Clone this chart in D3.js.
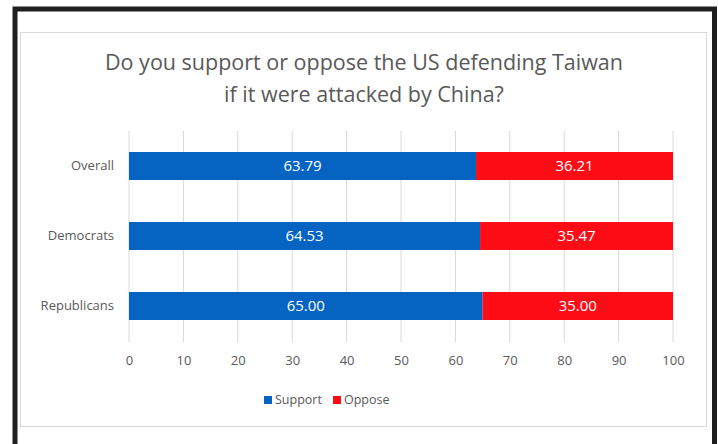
<!DOCTYPE html>
<html lang="en">
<head>
	<meta charset="UTF-8">
	<title>US defending Taiwan</title>
	<script src="https://cdn.jsdelivr.net/npm/d3@7"></script>
	<style>
		body { margin: 0; background: #fff; }
		text { font-family: "Open Sans", "Noto Sans", sans-serif; }
	</style>
</head>
<body>
<div id="chart"></div>
<script>
var groups  = ["Overall", "Democrats", "Republicans"]; // categories
var support = [63.79, 64.53, 65.00];
var oppose  = [36.21, 35.47, 35.00];
var seriesNames = ["Support", "Oppose"];
var xTicks = [0, 10, 20, 30, 40, 50, 60, 70, 80, 90, 100];

var colors = { Support: "#0563c1", Oppose: "#ff0d16" };
var grey = "#595959";

var svg = d3.select("#chart").append("svg")
	.attr("width", 718)
	.attr("height", 444);

// dark frame around the screenshot
svg.append("path")
	.attr("d", "M15,444 V9 H714.5 V444")
	.attr("fill", "none")
	.attr("stroke", "#1e1e1e")
	.attr("stroke-width", 5);

// chart area border
svg.append("rect")
	.attr("x", 20.5).attr("y", 32.5)
	.attr("width", 686).attr("height", 394)
	.attr("fill", "#fff")
	.attr("stroke", "#d9d9d9");

// title
var title = svg.append("text")
	.attr("text-anchor", "middle")
	.attr("fill", grey)
	.attr("font-size", 21.5);
title.append("tspan").attr("x", 364).attr("y", 70).text("Do you support or oppose the US defending Taiwan");
title.append("tspan").attr("x", 364).attr("y", 102).text("if it were attacked by China?");

var x = d3.scaleLinear().domain([0, 100]).range([129, 673]);
var y = d3.scaleBand().domain(groups).range([131, 341])
	.paddingInner(0.6).paddingOuter(0.3);

// gridlines
svg.append("g").selectAll("line")
	.data(xTicks)
	.join("line")
	.attr("x1", d => x(d)).attr("x2", d => x(d))
	.attr("y1", 131).attr("y2", 342)
	.attr("stroke", "#d9d9d9")
	.attr("stroke-width", 1);

// x axis labels
var xAxis = svg.append("g")
	.attr("transform", "translate(0,342)")
	.call(d3.axisBottom(x).tickValues(xTicks).tickSize(0).tickPadding(14));
xAxis.select(".domain").remove();
xAxis.selectAll("text").attr("fill", grey).attr("font-size", 13)
	.style("font-family", "'Open Sans', sans-serif");

// y axis labels
var yAxis = svg.append("g")
	.attr("transform", "translate(114,0)")
	.call(d3.axisLeft(y).tickSize(0).tickPadding(0));
yAxis.select(".domain").remove();
yAxis.selectAll("text").attr("fill", grey).attr("font-size", 13)
	.style("font-family", "'Open Sans', sans-serif");

// stacked rows
var rows = groups.map((g, i) => ({ group: g, Support: support[i], Oppose: oppose[i] }));
var stacked = d3.stack().keys(seriesNames)(rows);

var layer = svg.append("g").selectAll("g")
	.data(stacked)
	.join("g")
	.attr("fill", d => colors[d.key]);

layer.selectAll("rect")
	.data(d => d)
	.join("rect")
	.attr("x", d => x(d[0]))
	.attr("y", d => y(d.data.group))
	.attr("width", d => x(d[1]) - x(d[0]))
	.attr("height", y.bandwidth());

layer.selectAll("text")
	.data(d => d)
	.join("text")
	.attr("x", d => (x(d[0]) + x(d[1])) / 2)
	.attr("y", d => y(d.data.group) + y.bandwidth() / 2)
	.attr("dy", "0.36em")
	.attr("text-anchor", "middle")
	.attr("fill", "#ffffff")
	.attr("font-size", 15)
	.text(d => (d[1] - d[0]).toFixed(2));

// legend
var legend = svg.append("g").attr("transform", "translate(264,400)");
var lx = [0, 69];
seriesNames.forEach(function(name, i) {
	var g = legend.append("g").attr("transform", "translate(" + lx[i] + ",0)");
	g.append("rect").attr("x", 0).attr("y", -4).attr("width", 8).attr("height", 8)
		.attr("fill", colors[name]);
	g.append("text").attr("x", 11).attr("y", 0).attr("dy", "0.35em")
		.attr("fill", grey).attr("font-size", 12.5).text(name);
});
</script>
</body>
</html>
